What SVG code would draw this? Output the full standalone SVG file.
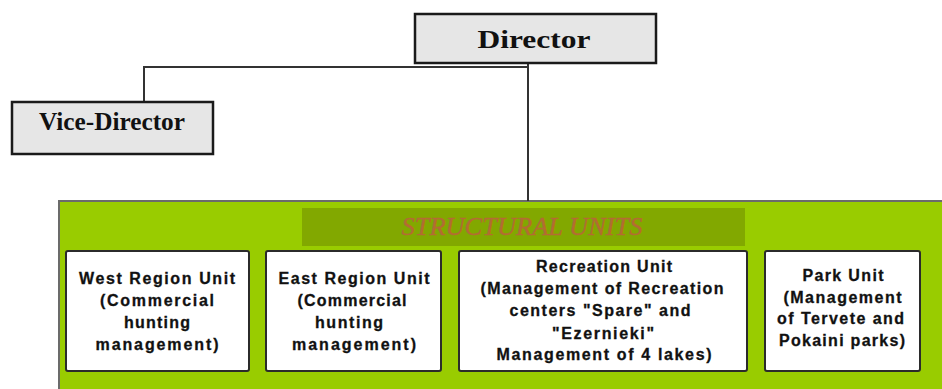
<svg xmlns="http://www.w3.org/2000/svg" width="942" height="389" viewBox="0 0 942 389">
  <style>
    .head { fill: #e6e6e6; stroke: #1a1a1a; stroke-width: 2.5; }
    .head-text { font-family: "Liberation Serif", "Times New Roman", serif; font-weight: bold; font-size: 25px; fill: #111; text-anchor: middle; }
    .unit { fill: #ffffff; stroke: #2b2b2b; stroke-width: 2; }
    .unit-text { font-family: "Liberation Sans", Arial, sans-serif; font-weight: bold; font-size: 16px; fill: #111; stroke: #111; stroke-width: 0.3; text-anchor: middle; }
    .wire { fill: none; stroke: #333; stroke-width: 2; }
  </style>

  <rect x="0" y="0" width="942" height="389" fill="#ffffff"/>

  <!-- structural units panel -->
  <g id="structural-units">
    <rect x="59" y="201" width="890" height="195" fill="#99cc00" stroke="#6b6b6b" stroke-width="2"/>
    <rect x="302" y="208" width="443" height="38" fill="#82a800"/>
    <text x="522" y="235" font-family="'Liberation Serif', 'Times New Roman', serif" font-style="italic" font-size="25" fill="#b36c33" stroke="#b36c33" stroke-width="0.4" text-anchor="middle" textLength="241" lengthAdjust="spacingAndGlyphs">STRUCTURAL UNITS</text>
  </g>

  <!-- connectors -->
  <g id="connectors">
    <path class="wire" d="M144 101 V67 H528"/>
    <path class="wire" d="M528 63 V201"/>
  </g>

  <g id="director">
    <rect class="head" x="415" y="14" width="241" height="49"/>
    <text class="head-text" x="534" y="48" textLength="113" lengthAdjust="spacingAndGlyphs">Director</text>
  </g>

  <g id="vice-director">
    <rect class="head" x="12" y="102" width="201" height="52"/>
    <text class="head-text" x="112" y="130" textLength="146" lengthAdjust="spacingAndGlyphs">Vice-Director</text>
  </g>

  <g id="west-region-unit">
    <rect class="unit" x="66" y="251" width="183" height="120" rx="2"/>
    <text class="unit-text" x="157" y="283.5" textLength="156" lengthAdjust="spacing">West Region Unit</text>
    <text class="unit-text" x="157" y="306" textLength="114" lengthAdjust="spacing">(Commercial</text>
    <text class="unit-text" x="157" y="328" textLength="66" lengthAdjust="spacing">hunting</text>
    <text class="unit-text" x="157" y="350" textLength="123" lengthAdjust="spacing">management)</text>
  </g>

  <g id="east-region-unit">
    <rect class="unit" x="266" y="251" width="175" height="120" rx="2"/>
    <text class="unit-text" x="354" y="283.5" textLength="151" lengthAdjust="spacing">East Region Unit</text>
    <text class="unit-text" x="352" y="306" textLength="109" lengthAdjust="spacing">(Commercial</text>
    <text class="unit-text" x="349" y="328" textLength="68" lengthAdjust="spacing">hunting</text>
    <text class="unit-text" x="354" y="350" textLength="124" lengthAdjust="spacing">management)</text>
  </g>

  <g id="recreation-unit">
    <rect class="unit" x="459" y="251" width="288" height="120" rx="2"/>
    <text class="unit-text" x="604" y="272" textLength="136" lengthAdjust="spacing">Recreation Unit</text>
    <text class="unit-text" x="602" y="294" textLength="243" lengthAdjust="spacing">(Management of Recreation</text>
    <text class="unit-text" x="600" y="316" textLength="181" lengthAdjust="spacing">centers "Spare" and</text>
    <text class="unit-text" x="603" y="338.5" textLength="102" lengthAdjust="spacing">"Ezernieki"</text>
    <text class="unit-text" x="604" y="360" textLength="215" lengthAdjust="spacing">Management of 4 lakes)</text>
  </g>

  <g id="park-unit">
    <rect class="unit" x="765" y="251" width="155" height="120" rx="2"/>
    <text class="unit-text" x="843" y="281" textLength="81" lengthAdjust="spacing">Park Unit</text>
    <text class="unit-text" x="842.5" y="302.5" textLength="118" lengthAdjust="spacing">(Management</text>
    <text class="unit-text" x="840.5" y="324" textLength="127" lengthAdjust="spacing">of Tervete and</text>
    <text class="unit-text" x="842" y="346" textLength="126" lengthAdjust="spacing">Pokaini parks)</text>
  </g>
</svg>
